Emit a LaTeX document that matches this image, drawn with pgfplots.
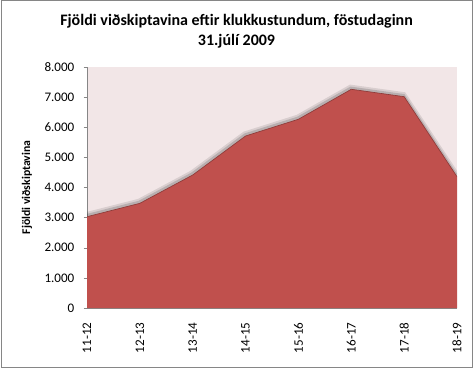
\documentclass[border=0pt]{standalone}
\usepackage{pgfplots}
\pgfplotsset{compat=1.18}
\usepackage{fontspec}
\setmainfont{Carlito}
\definecolor{areared}{HTML}{C0504D}
\definecolor{edgered}{HTML}{8E3B39}
\definecolor{plotbg}{HTML}{F2E6E7}
\definecolor{axgray}{HTML}{868686}
\begin{document}
\begin{tikzpicture}
\path[use as bounding box] (0,0) rectangle (354.75pt,276pt);
\draw[axgray, line width=0.75pt] (0.75pt,0.75pt) rectangle (354pt,275.25pt);
\node[font=\bfseries\fontsize{12}{15}\selectfont, align=center] at (177.4pt,252.5pt) {Fjöldi viðskiptavina eftir klukkustundum, föstudaginn\\31.júlí 2009};
\begin{axis}[
  at={(65.25pt,45pt)}, anchor=south west,
  scale only axis, width=277.5pt, height=180.75pt,
  xmin=0, xmax=7, ymin=0, ymax=8000,
  axis background/.style={fill=plotbg},
  axis x line*=bottom, axis y line*=left,
  axis line style={axgray, line width=0.6pt, -},
  xtick={0,...,7},
  xticklabels={11-12,12-13,13-14,14-15,15-16,16-17,17-18,18-19},
  xtick style={draw=none},
  ytick={0,1000,...,8000},
  ytick style={axgray},
  tick align=outside, major tick length=2.5pt,
  scaled y ticks=false,
  /pgf/number format/.cd, 1000 sep={.}, assume math mode=true,
  /pgfplots/.cd,
  yticklabel style={font=\fontsize{9.8}{11}\selectfont, xshift=-3.5pt},
  xticklabel style={font=\fontsize{9.8}{11}\selectfont, rotate=90, anchor=east, xshift=-5pt},
  ylabel={Fjöldi viðskiptavina},
  ylabel style={font=\bfseries\fontsize{8.8}{11}\selectfont, at={(axis description cs:-0.162,0.5)}, anchor=center},
]
\addplot[draw=black, opacity=0.10, line width=4.5pt, transform canvas={xshift=-0.5pt,yshift=1.2pt}] coordinates {(0,3030) (1,3475) (2,4415) (3,5710) (4,6265) (5,7260) (6,7015) (7,4360)};
\addplot[draw=black, opacity=0.15, line width=2.2pt, transform canvas={xshift=-0.4pt,yshift=0.9pt}] coordinates {(0,3030) (1,3475) (2,4415) (3,5710) (4,6265) (5,7260) (6,7015) (7,4360)};
\addplot[fill=areared, draw=none] coordinates {(0,3030) (1,3475) (2,4415) (3,5710) (4,6265) (5,7260) (6,7015) (7,4360)} \closedcycle;
\addplot[draw=edgered, line width=0.5pt] coordinates {(0,3030) (1,3475) (2,4415) (3,5710) (4,6265) (5,7260) (6,7015) (7,4360)};
\end{axis}
\end{tikzpicture}
\end{document}
